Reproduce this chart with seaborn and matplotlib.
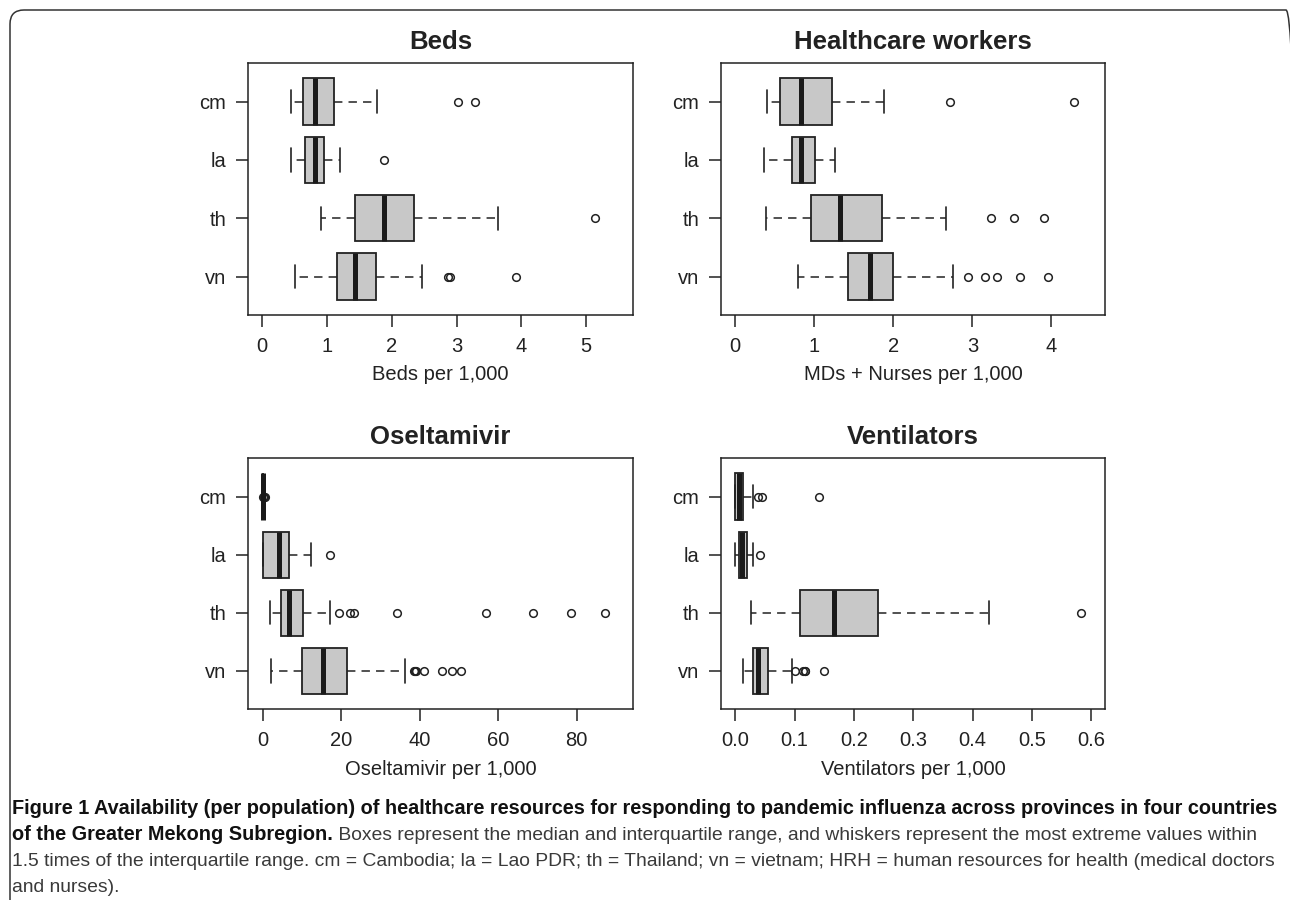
import matplotlib
matplotlib.use("Agg")
import matplotlib.pyplot as plt
from matplotlib.patches import FancyBboxPatch
from matplotlib.transforms import IdentityTransform
import seaborn as sns

sns.set_theme(style="white")
plt.rcParams['font.family'] = ['Liberation Sans', 'DejaVu Sans']

countries = ["cm", "la", "th", "vn"]

# five-number summaries: whisker low, q1, median, q3, whisker high
beds_stats = [[0.45, 0.63, 0.81, 1.11, 1.77],
              [0.44, 0.66, 0.81, 0.96, 1.20],
              [0.91, 1.43, 1.88, 2.35, 3.64],
              [0.51, 1.16, 1.43, 1.75, 2.47]]
beds_out = [[3.02, 3.29], [1.88], [5.14], [2.87, 2.90, 3.92]]

hcw_stats = [[0.41, 0.57, 0.84, 1.23, 1.88],
             [0.37, 0.72, 0.84, 1.01, 1.27],
             [0.39, 0.96, 1.33, 1.86, 2.67],
             [0.80, 1.43, 1.71, 2.00, 2.76]]
hcw_out = [[2.72, 4.29], [], [3.23, 3.53, 3.90], [2.94, 3.16, 3.31, 3.60, 3.96]]

osel_stats = [[0.0, 0.0, 0.0, 0.0, 0.0],
              [0.0, 0.0, 4.1, 6.6, 12.3],
              [1.7, 4.5, 6.6, 10.3, 17.2],
              [2.1, 9.85, 15.3, 21.5, 36.2]]
osel_out = [[0.15, 0.3, 0.45],
            [17.2],
            [19.4, 22.1, 23.3, 34.2, 56.8, 68.8, 78.5, 87.3],
            [38.5, 38.8, 39.1, 41.0, 45.6, 48.1, 50.5]]

vent_stats = [[0.0, 0.0, 0.007, 0.014, 0.030],
              [0.0, 0.006, 0.012, 0.020, 0.030],
              [0.027, 0.109, 0.166, 0.240, 0.427],
              [0.013, 0.030, 0.038, 0.055, 0.095]]
vent_out = [[0.038, 0.046, 0.141], [0.041], [0.582],
            [0.101, 0.114, 0.117, 0.118, 0.150]]

panels = [
    ("Beds", "Beds per 1,000", beds_stats, beds_out, [0, 1, 2, 3, 4, 5], ["0", "1", "2", "3", "4", "5"], (-0.22, 5.72)),
    ("Healthcare workers", "MDs + Nurses per 1,000", hcw_stats, hcw_out, [0, 1, 2, 3, 4], ["0", "1", "2", "3", "4"], (-0.18, 4.68)),
    ("Oseltamivir", "Oseltamivir per 1,000", osel_stats, osel_out, [0, 20, 40, 60, 80], ["0", "20", "40", "60", "80"], (-3.8, 94.3)),
    ("Ventilators", "Ventilators per 1,000", vent_stats, vent_out, [0, 0.1, 0.2, 0.3, 0.4, 0.5, 0.6],
     ["0.0", "0.1", "0.2", "0.3", "0.4", "0.5", "0.6"], (-0.0244, 0.6234)),
]

W, H = 1290, 900
fig = plt.figure(figsize=(W / 100, H / 100), dpi=100)

# axes boxes in pixels: left, right, top, bottom
boxes = [(248, 632.7, 63, 315), (720.7, 1105.3, 63, 315),
         (248, 632.7, 458.3, 709.3), (720.7, 1105.3, 458.3, 709.3)]

ink = "#222222"
for (title, xlab, stats, outs, ticks, ticklabels, xlim), (l, r, t, b) in zip(panels, boxes):
    ax = fig.add_axes([l / W, 1 - b / H, (r - l) / W, (b - t) / H])
    bxp_stats = []
    for name, s, o in zip(countries, stats, outs):
        bxp_stats.append(dict(label=name, whislo=s[0], q1=s[1], med=s[2], q3=s[3], whishi=s[4], fliers=o))
    ax.bxp(bxp_stats, positions=range(len(countries)), widths=0.8, orientation="horizontal",
           patch_artist=True, showfliers=True,
           boxprops=dict(facecolor="#c8c8c8", edgecolor=ink, linewidth=1.3),
           medianprops=dict(color="#1a1a1a", linewidth=3.6, solid_capstyle="butt"),
           whiskerprops=dict(color=ink, linewidth=1.1, linestyle=(0, (5.5, 4))),
           capprops=dict(color=ink, linewidth=1.2),
           flierprops=dict(marker="o", markerfacecolor="none", markeredgecolor=ink,
                           markersize=5.5, markeredgewidth=1.1))
    ax.set_ylim(3.66, -0.66)
    ax.set_xlim(*xlim)
    ax.set_xticks(ticks)
    ax.set_xticklabels(ticklabels)
    ax.set_yticks(range(len(countries)))
    ax.set_yticklabels(countries)
    ax.tick_params(axis="both", direction="out", length=8.5, width=1.1, color=ink,
                   labelsize=14.5, labelcolor=ink, pad=7, bottom=True, left=True)
    for sp in ax.spines.values():
        sp.set_linewidth(1.1)
        sp.set_color(ink)
    ax.set_title(title, fontsize=18.5, fontweight="bold", color=ink, pad=10)
    ax.set_xlabel(xlab, fontsize=14.5, color=ink, labelpad=7)
    ax.set_ylabel("")
    ax.grid(False)

# rounded frame around the figure
frame = FancyBboxPatch((10, -60), 1290, H - 10 + 60, boxstyle="round,pad=0,rounding_size=14",
                       transform=IdentityTransform(), facecolor="none", edgecolor="#333333", linewidth=1.1)
fig.add_artist(frame)

# caption
cap_x = 12 / W
bold_size = 14.3
reg_size = 13.85
bold_line1 = ("Figure 1 Availability (per population) of healthcare resources for responding to "
              "pandemic influenza across provinces in four countries")
bold_line2 = "of the Greater Mekong Subregion."
reg_line2 = (" Boxes represent the median and interquartile range, and whiskers represent the most "
             "extreme values within")
reg_line3 = ("1.5 times of the interquartile range. cm = Cambodia; la = Lao PDR; th = Thailand; "
             "vn = vietnam; HRH = human resources for health (medical doctors")
reg_line4 = "and nurses)."

fig.text(cap_x, 1 - 808 / H, bold_line1, fontsize=bold_size, fontweight="bold", color="#111111", va="center")
t2 = fig.text(cap_x, 1 - 835 / H, bold_line2, fontsize=bold_size, fontweight="bold", color="#111111", va="center")
fig.axes[0].annotate(reg_line2, xy=(1, 0), xycoords=t2, va="bottom", ha="left",
                     fontsize=reg_size, color="#3a3a3a", annotation_clip=False)
fig.text(cap_x, 1 - 861 / H, reg_line3, fontsize=reg_size, color="#3a3a3a", va="center")
fig.text(cap_x, 1 - 887 / H, reg_line4, fontsize=reg_size, color="#3a3a3a", va="center")

fig.savefig("out.png", dpi=100)
